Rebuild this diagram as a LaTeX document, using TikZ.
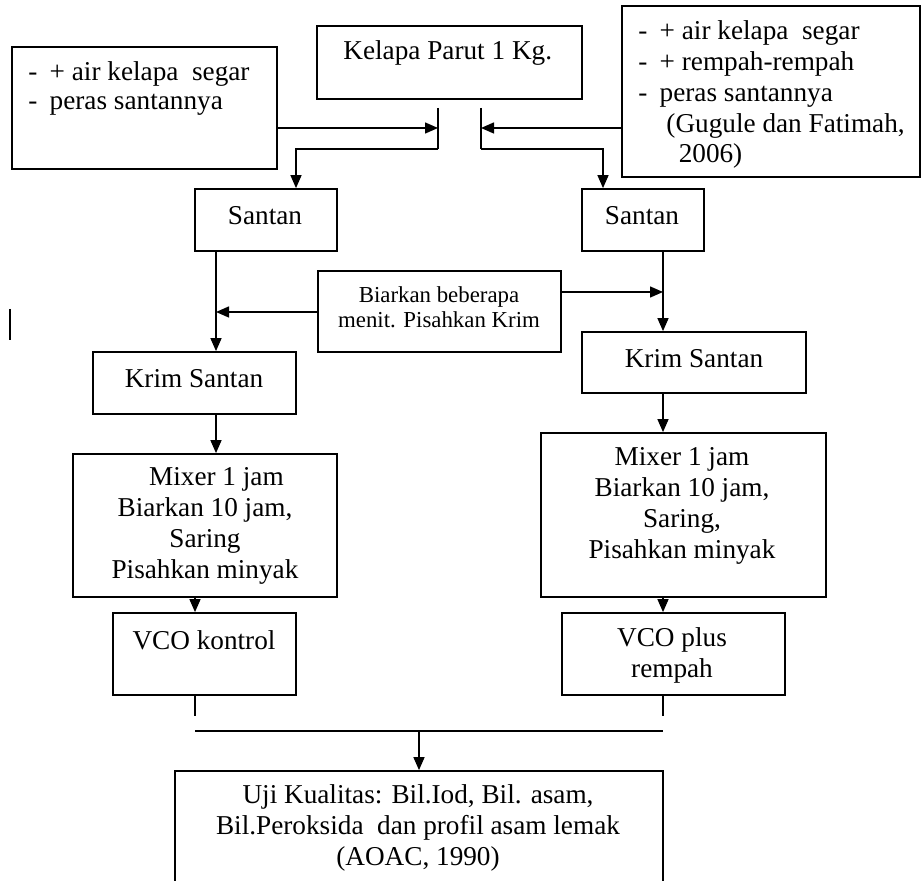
\documentclass[tikz,border=0pt]{standalone}
\usepackage{fontspec}
\setmainfont{Liberation Serif}
\usetikzlibrary{arrows.meta,fit}
\tikzset{
	kotak/.style={draw, line width=1pt, inner sep=0pt},
	teks/.style={font=\fontsize{15.5}{17.6}\selectfont, inner sep=0pt, align=center},
	kecil/.style={font=\fontsize{13}{14.4}\selectfont, inner sep=0pt, align=center},
	garis/.style={line width=0.8pt},
	tipis/.style={line width=0.6pt},
	tebal/.style={line width=1.4pt},
	panah/.style={-{Triangle[length=2.6mm,width=2.2mm]}, line width=0.8pt}
}

\begin{document}
\begin{tikzpicture}[x=0.02cm, y=-0.02cm]
		%%%%% START %%%%%
		\useasboundingbox (0,0) rectangle (922,881);
		
		% bahan awal
		\node[kotak, fit={(317,26) (582,99)}] (kelapa) {};
		\node[teks, anchor=base west] (kelapa-t) at (343,60) {Kelapa Parut 1 Kg.};
		
		\node[kotak, fit={(12,47) (277,169)}] (tambah-l) {};
		\node[teks, align=left, anchor=base west] (tambah-l-t) at (28,110)
			{-\hspace{7pt}+ air kelapa\ \ segar\\[-0.8pt]-\hspace{7pt}peras santannya};
		
		\node[kotak, fit={(622,6) (920,177)}] (tambah-r) {};
		\node[teks, align=left, anchor=base west] (tambah-r-t) at (638,163)
			{-\hspace{7pt}+ air kelapa\ \ segar\\-\hspace{7pt}+ rempah-rempah\\-\hspace{7pt}peras santannya\\
			\hspace*{16pt}(Gugule dan Fatimah,\\\hspace*{23pt}2006)};
		
		% santan
		\node[kotak, fit={(195,189) (337,251)}] (santan-l) {};
		\node[teks] (santan-l-t) at (265,216) {Santan};
		\node[kotak, fit={(582,189) (704,251)}] (santan-r) {};
		\node[teks] (santan-r-t) at (642,216) {Santan};
		
		\node[kotak, fit={(318,271) (561,352)}] (biar) {};
		\node[kecil] (biar-t) at (439,307) {Biarkan beberapa\\menit. Pisahkan Krim};
		
		% krim
		\node[kotak, fit={(93,352) (296,414)}] (krim-l) {};
		\node[teks] (krim-l-t) at (194,379) {Krim Santan};
		\node[kotak, fit={(582,332) (806,393)}] (krim-r) {};
		\node[teks] (krim-r-t) at (694,359) {Krim Santan};
		
		% mixer
		\node[kotak, fit={(73,454) (337,597)}] (mix-l) {};
		\node[teks] (mix-l-t) at (205,526)
			{\hspace*{13pt}Mixer 1 jam\\Biarkan 10 jam,\\Saring\\Pisahkan minyak};
		\node[kotak, fit={(541,433) (826,597)}] (mix-r) {};
		\node[teks] (mix-r-t) at (682,506)
			{Mixer 1 jam\\Biarkan 10 jam,\\Saring,\\Pisahkan minyak};
		
		% vco
		\node[kotak, fit={(113,613) (296,695)}] (vco-l) {};
		\node[teks] (vco-l-t) at (204,640) {VCO kontrol};
		\node[kotak, fit={(562,613) (785,695)}] (vco-r) {};
		\node[teks] (vco-r-t) at (672,655) {VCO plus\\rempah};
		
		% uji
		\node[kotak, fit={(175,771) (663,905)}] (uji) {};
		\node[teks] (uji-t) at (418,828)
			{Uji Kualitas: Bil.Iod, Bil. asam,\\Bil.Peroksida\ \ dan profil asam lemak\\(AOAC, 1990)};
		
		% titik bantu
		\coordinate (jl-a) at (438,108);
		\coordinate (jl-b) at (438,149);
		\coordinate (jl) at (438,128);
		\coordinate (jr-a) at (481,108);
		\coordinate (jr-b) at (481,149);
		\coordinate (jr) at (481,128);
		\coordinate (xl) at (296,0);
		\coordinate (xr) at (603,0);
		\coordinate (kol-l) at (216,0);
		\coordinate (kol-r) at (663,0);
		\coordinate (kol-v) at (195,0);
		\coordinate (kol-u) at (419,0);
		\coordinate (biar-l) at (216,312);
		\coordinate (biar-r) at (663,292);
		\coordinate (ujung-l) at (195,716);
		\coordinate (ujung-r) at (663,716);
		\coordinate (gab-l) at (195,731);
		\coordinate (gab-r) at (663,731);
		
		% panah atas
		\draw[garis] (jl-a) -- (jl-b);
		\draw[panah] (tambah-l.east |- jl) -- (jl);
		\draw[panah] (jl-b) -| (santan-l.north -| xl);
		\draw[garis] (jr-a) -- (jr-b);
		\draw[panah] (tambah-r.west |- jr) -- (jr);
		\draw[panah] (jr-b) -| (santan-r.north -| xr);
		
		\draw[panah] (santan-l.south -| kol-l) -- (krim-l.north -| kol-l);
		\draw[panah] (santan-r.south -| kol-r) -- (krim-r.north -| kol-r);
		\draw[panah] (biar.west |- biar-l) -- (biar-l);
		\draw[panah] (biar.east |- biar-r) -- (biar-r);
		
		\draw[panah] (krim-l.south -| kol-l) -- (mix-l.north -| kol-l);
		\draw[panah] (krim-r.south -| kol-r) -- (mix-r.north -| kol-r);
		\draw[panah] (mix-l.south -| kol-v) -- (vco-l.north -| kol-v);
		\draw[panah] (mix-r.south -| kol-r) -- (vco-r.north -| kol-r);
		
		% gabung
		\draw[tipis] (vco-l.south -| kol-v) -- (ujung-l);
		\draw[tipis] (vco-r.south -| kol-r) -- (ujung-r);
		\draw[tebal] (gab-l) -- (gab-r);
		\draw[panah] (gab-l -| kol-u) -- (uji.north -| kol-u);
		
		\draw[line width=1.6pt] (10,309) -- (10,340);
		
		%%%%% END %%%%%
\end{tikzpicture}
\end{document}
